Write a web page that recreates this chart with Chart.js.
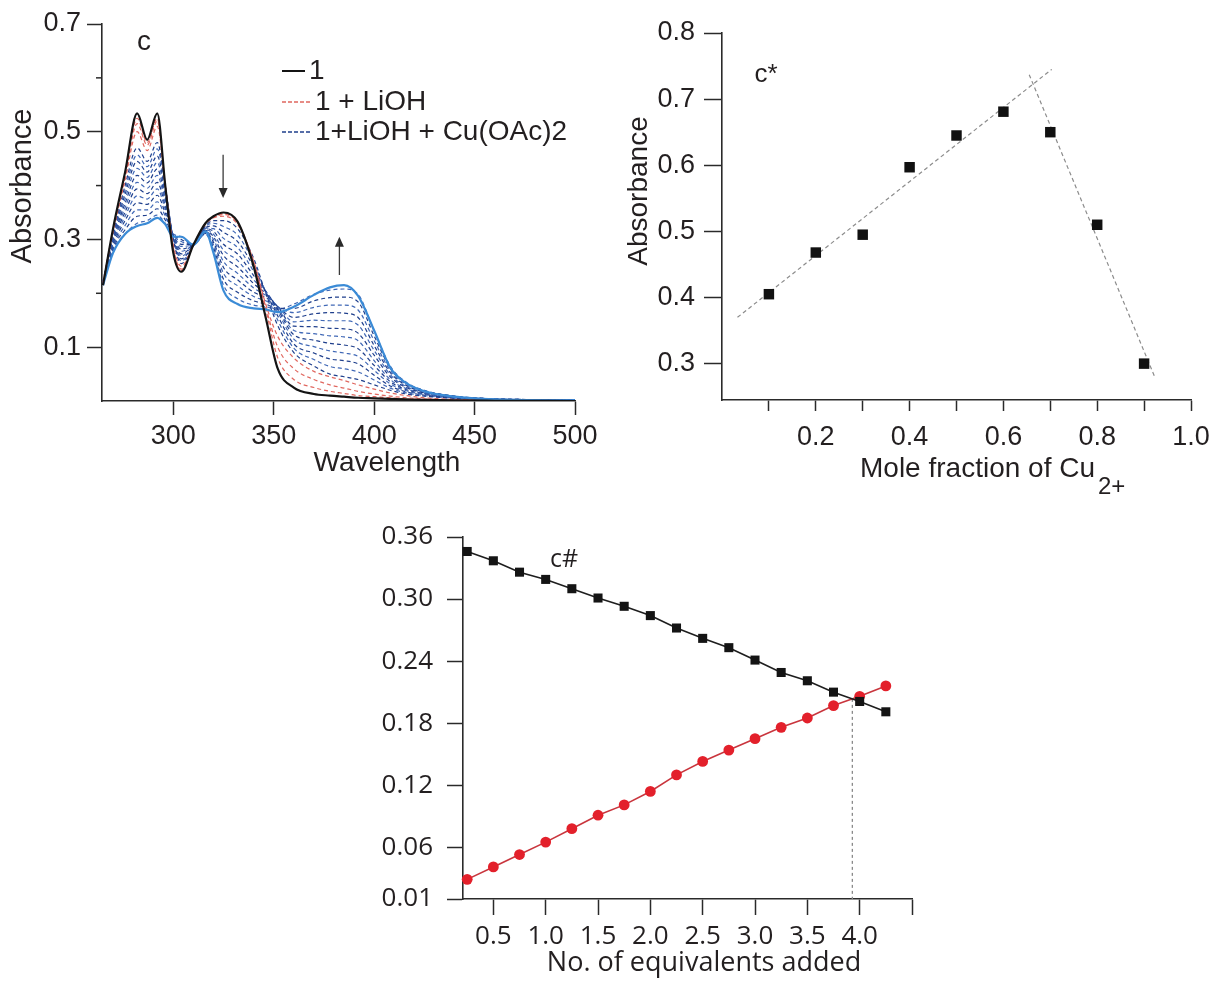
<!DOCTYPE html>
<html><head><meta charset="utf-8">
<script src="https://cdn.jsdelivr.net/npm/chart.js@4.4.1/dist/chart.umd.min.js"></script>
<style>
html,body{margin:0;padding:0;background:#fff;}
#wrap{position:relative;width:1215px;height:981px;overflow:hidden;background:#fff;}
canvas{position:absolute;}
</style></head><body>
<div id="wrap">
<canvas id="cA" width="600" height="490" style="left:0;top:0"></canvas>
<canvas id="cB" width="615" height="500" style="left:600px;top:0"></canvas>
<canvas id="cC" width="600" height="471" style="left:370px;top:510px"></canvas>
</div>
<script>
// ---------- Panel c : UV-vis titration spectra ----------
const wavelengths = [265,270,276,282,287,292,296,300,304,310,316,320,325,332,340,346,352,360,370,378,385,392,400,408,416,425,440,460,500];
const spec1      = [0.215,0.32,0.425,0.534,0.485,0.534,0.40,0.275,0.24,0.29,0.33,0.343,0.350,0.333,0.25,0.155,0.06,0.025,0.013,0.010,0.008,0.006,0.005,0.004,0.003,0.002,0.001,0.0005,0];
const specLiOH_1 = [0.218,0.318,0.42,0.525,0.48,0.525,0.40,0.28,0.242,0.29,0.33,0.342,0.348,0.332,0.255,0.17,0.08,0.04,0.025,0.018,0.014,0.010,0.008,0.006,0.004,0.003,0.002,0.001,0];
const specLiOH_2 = [0.218,0.316,0.415,0.515,0.475,0.52,0.40,0.285,0.245,0.29,0.33,0.341,0.346,0.331,0.258,0.175,0.10,0.06,0.04,0.03,0.024,0.018,0.013,0.009,0.006,0.004,0.002,0.001,0];
const specLiOH_3 = [0.22,0.314,0.41,0.50,0.465,0.51,0.40,0.29,0.25,0.29,0.328,0.34,0.343,0.328,0.26,0.18,0.12,0.08,0.055,0.045,0.038,0.03,0.022,0.015,0.01,0.006,0.003,0.001,0];
const specCu_01 = [.222,.310,.400,.470,.445,.480,.400,.300,.255,.288,.325,.335,.335,.320,.265,.200,.140,.090,.065,.050,.045,.040,.030,.020,.013,.009,.005,.002,.001];
const specCu_02 = [.221,.307,.392,.457,.435,.468,.394,.301,.260,.289,.324,.330,.324,.308,.257,.202,.150,.098,.077,.064,.060,.054,.039,.024,.015,.010,.005,.002,.001];
const specCu_03 = [.221,.305,.384,.445,.425,.455,.387,.302,.264,.290,.322,.325,.313,.296,.249,.203,.158,.106,.089,.078,.075,.069,.048,.028,.017,.011,.006,.002,.001];
const specCu_04 = [.220,.302,.375,.432,.415,.443,.381,.303,.269,.290,.321,.320,.302,.285,.241,.204,.165,.115,.101,.093,.089,.083,.057,.032,.019,.012,.006,.003,.001];
const specCu_05 = [.219,.299,.367,.419,.405,.431,.375,.304,.273,.291,.320,.315,.291,.273,.233,.204,.170,.123,.113,.107,.104,.097,.066,.036,.021,.013,.006,.003,.001];
const specCu_06 = [.219,.296,.359,.406,.395,.419,.368,.305,.278,.291,.318,.310,.280,.261,.225,.203,.173,.131,.125,.121,.119,.112,.075,.040,.023,.014,.007,.003,.002];
const specCu_07 = [.218,.294,.351,.394,.385,.406,.362,.305,.282,.292,.317,.305,.270,.249,.218,.200,.175,.139,.138,.135,.134,.126,.085,.045,.025,.015,.007,.003,.002];
const specCu_08 = [.218,.291,.343,.381,.375,.394,.356,.306,.287,.292,.315,.300,.259,.237,.210,.196,.176,.147,.150,.149,.149,.141,.094,.049,.027,.016,.007,.003,.002];
const specCu_09 = [.217,.288,.335,.368,.365,.382,.349,.307,.291,.291,.314,.295,.248,.225,.202,.192,.175,.155,.162,.164,.163,.155,.103,.053,.029,.017,.008,.004,.002];
const specCu_10 = [.216,.285,.326,.355,.355,.370,.343,.308,.296,.291,.313,.290,.237,.214,.194,.186,.174,.164,.174,.178,.178,.169,.112,.057,.031,.018,.008,.004,.002];
const specCu_11 = [.216,.283,.318,.343,.345,.357,.336,.309,.300,.290,.311,.285,.226,.202,.186,.180,.172,.172,.186,.192,.193,.184,.121,.061,.033,.019,.009,.004,.002];
const specCu_12 = [.215,.280,.310,.330,.335,.345,.330,.310,.305,.290,.310,.280,.215,.190,.178,.175,.170,.180,.198,.206,.208,.198,.130,.065,.035,.020,.009,.004,.002];
const specCuFinal = [.215,.275,.31,.325,.33,.34,.328,.305,.305,.29,.315,.275,.205,.18,.172,.17,.165,.175,.197,.211,.215,.195,.131,.062,.033,.018,.008,.003,.001];
const arrowDown = [324.8, 0.457, 0.377];   // [wavelength, from, to]
const arrowUp   = [382.7, 0.234, 0.305];
const xTicksA = [300,350,400,450,500];
const yTicksA = [0.1,0.3,0.5,0.7];
const yMinorA = [0.2,0.4,0.6];
const legendA = ['1','1 + LiOH','1+LiOH + Cu(OAc)2'];

// ---------- Panel c* : Job plot ----------
const moleFraction = [0.1,0.2,0.3,0.4,0.5,0.6,0.7,0.8,0.9];
const absorbanceJob = [0.405,0.468,0.495,0.597,0.645,0.681,0.650,0.510,0.300];
const fitRiseX = [0.033,0.703], fitRiseY = [0.370,0.745];
const fitFallX = [0.655,0.922], fitFallY = [0.737,0.281];
const xTicksB = [0.1,0.2,0.3,0.4,0.5,0.6,0.7,0.8,0.9,1.0];
const xTickLabelsB = ['','0.2','','0.4','','0.6','','0.8','','1.0'];
const yTicksB = [0.3,0.4,0.5,0.6,0.7,0.8];

// ---------- Panel c# : titration ----------
const equivalents = [0.25,0.5,0.75,1.0,1.25,1.5,1.75,2.0,2.25,2.5,2.75,3.0,3.25,3.5,3.75,4.0,4.25];
const absDecrease = [0.346,0.337,0.326,0.319,0.310,0.301,0.293,0.284,0.272,0.262,0.253,0.241,0.229,0.221,0.210,0.201,0.191];
const absIncrease = [0.029,0.041,0.053,0.065,0.078,0.091,0.101,0.114,0.130,0.143,0.154,0.165,0.176,0.185,0.197,0.206,0.216];
const equivPoint = 3.93;
const equivLineY = [0.2035, 0.01];
const xTicksC = [0.5,1.0,1.5,2.0,2.5,3.0,3.5,4.0,4.5];
const xTickLabelsC = ['0.5','1.0','1.5','2.0','2.5','3.0','3.5','4.0',''];
const yTicksC = [0.01,0.06,0.12,0.18,0.24,0.30,0.36];
const yTickLabelsC = ['0.01','0.06','0.12','0.18','0.24','0.30','0.36'];

// ---------- helpers ----------
const ARIAL = '"Liberation Sans", Arial, sans-serif';
const OPEN = '"Open Sans", "Noto Sans", sans-serif';
const INK = '#231f20';
const AX = '#2a2a2a';
const pts = (xs, ys) => xs.map((x, i) => ({x, y: ys[i]}));
const setTicks = arr => s => { s.ticks = arr.map(v => ({value: v})); };

function axis(opts) {
  return {
    type: 'linear', min: opts.min, max: opts.max,
    afterBuildTicks: setTicks(opts.ticks),
    afterFit: s => {
      opts.fit(s);
      s.paddingLeft = 0; s.paddingRight = 0; s.paddingTop = 0; s.paddingBottom = 0;
    },
    grid: {display: true, drawOnChartArea: false, drawTicks: true, tickLength: opts.tl, tickColor: AX, tickWidth: 1.5},
    border: {display: true, color: AX, width: 1.6},
    ticks: {font: {family: opts.family, size: opts.size, lineHeight: 1}, color: INK, padding: opts.pad,
            maxRotation: 0, minRotation: 0, autoSkip: false, callback: opts.cb}
  };
}
function text(ctx, s, x, y, font, align, rot) {
  ctx.save();
  ctx.font = font; ctx.fillStyle = INK; ctx.textAlign = align || 'center'; ctx.textBaseline = 'middle';
  ctx.translate(x, y); if (rot) ctx.rotate(rot);
  ctx.fillText(s, 0, 0);
  ctx.restore();
}
function arrow(ctx, px, y0, y1) {
  const dir = y1 > y0 ? 1 : -1;
  ctx.save();
  ctx.strokeStyle = '#3a3a3a'; ctx.fillStyle = '#2a2a2a'; ctx.lineWidth = 1.3; ctx.setLineDash([]);
  ctx.beginPath(); ctx.moveTo(px, y0); ctx.lineTo(px, y1 - dir * 8); ctx.stroke();
  ctx.beginPath(); ctx.moveTo(px, y1); ctx.lineTo(px - 4.5, y1 - dir * 10); ctx.lineTo(px + 4.5, y1 - dir * 10); ctx.closePath(); ctx.fill();
  ctx.restore();
}
const common = {responsive: false, animation: false, devicePixelRatio: 1,
  plugins: {legend: {display: false}, tooltip: {enabled: false}}};

// ---------- Chart A ----------
const RED = '#e0675f';
const BLUES = ['#1f3f8c', '#4068b6'];
const cuSpectra = [specCu_01,specCu_02,specCu_03,specCu_04,specCu_05,specCu_06,specCu_07,specCu_08,specCu_09,specCu_10,specCu_11,specCu_12];
const dsA = [
  {data: pts(wavelengths, spec1), borderColor: '#141414', borderWidth: 2.2},
  {data: pts(wavelengths, specCuFinal), borderColor: '#3b8bd6', borderWidth: 2.2}
];
[specLiOH_1, specLiOH_2, specLiOH_3].forEach(s => dsA.push({data: pts(wavelengths, s), borderColor: RED, borderWidth: 1.2, borderDash: [4, 3]}));
cuSpectra.forEach((s, i) => dsA.push({data: pts(wavelengths, s), borderColor: BLUES[i % 2], borderWidth: 1.2, borderDash: [4, 3]}));

const decorA = {id: 'decorA', afterDraw(chart) {
  const {ctx, scales: {x, y}, chartArea} = chart;
  ctx.save();
  ctx.strokeStyle = AX; ctx.lineWidth = 1.5;
  yMinorA.forEach(v => { const py = y.getPixelForValue(v); ctx.beginPath(); ctx.moveTo(chartArea.left - 6, py); ctx.lineTo(chartArea.left, py); ctx.stroke(); });
  arrow(ctx, x.getPixelForValue(arrowDown[0]), y.getPixelForValue(arrowDown[1]), y.getPixelForValue(arrowDown[2]));
  arrow(ctx, x.getPixelForValue(arrowUp[0]), y.getPixelForValue(arrowUp[1]), y.getPixelForValue(arrowUp[2]));
  // legend
  const rows = [71, 102, 132];
  ctx.lineWidth = 2; ctx.strokeStyle = '#141414'; ctx.setLineDash([]);
  ctx.beginPath(); ctx.moveTo(282, rows[0]); ctx.lineTo(305, rows[0]); ctx.stroke();
  ctx.lineWidth = 1.3; ctx.setLineDash([4, 2]);
  ctx.strokeStyle = RED; ctx.beginPath(); ctx.moveTo(282, rows[1]); ctx.lineTo(311, rows[1]); ctx.stroke();
  ctx.strokeStyle = BLUES[0]; ctx.beginPath(); ctx.moveTo(282, rows[2]); ctx.lineTo(311, rows[2]); ctx.stroke();
  ctx.setLineDash([]);
  text(ctx, legendA[0], 309, rows[0], '28px ' + ARIAL, 'left');
  text(ctx, legendA[1], 315, rows[1], '28px ' + ARIAL, 'left');
  text(ctx, legendA[2], 315, rows[2], '28px ' + ARIAL, 'left');
  text(ctx, 'c', 144, 42, '28px ' + ARIAL);
  text(ctx, 'Wavelength', 387, 463, '28px ' + ARIAL);
  text(ctx, 'Absorbance', 23, 186, '29px ' + ARIAL, 'center', -Math.PI / 2);
  ctx.restore();
}};

new Chart(document.getElementById('cA'), {
  type: 'line',
  data: {datasets: dsA},
  options: Object.assign({}, common, {
    layout: {padding: {left: 0, top: 24, right: 25, bottom: 0}},
    elements: {point: {radius: 0}, line: {cubicInterpolationMode: 'monotone'}},
    scales: {
      x: axis({min: 264.5, max: 500, ticks: xTicksA, fit: s => { s.height = 89; }, tl: 14, family: ARIAL, size: 27, pad: 8}),
      y: axis({min: 0, max: 0.7, ticks: yTicksA, fit: s => { s.width = 102; }, tl: 15, family: ARIAL, size: 27, pad: 6})
    }
  }),
  plugins: [decorA]
});

// ---------- Chart B ----------
const decorB = {id: 'decorB', afterDraw(chart) {
  const ctx = chart.ctx;
  text(ctx, 'c*', 166, 75, '26px ' + ARIAL);
  text(ctx, 'Absorbance', 39, 191, '28px ' + ARIAL, 'center', -Math.PI / 2);
  ctx.save(); ctx.font = '28px ' + ARIAL;
  const main = 'Mole fraction of Cu';
  const w = ctx.measureText(main).width; ctx.restore();
  text(ctx, main, 260, 469, '28px ' + ARIAL, 'left');
  text(ctx, '2+', 260 + w + 3, 487, '24px ' + ARIAL, 'left');
}};
new Chart(document.getElementById('cB'), {
  type: 'scatter',
  data: {datasets: [
    {data: pts(moleFraction, absorbanceJob), pointStyle: 'rect', pointRadius: 7.4, backgroundColor: '#111', borderColor: '#111', borderWidth: 0, clip: false},
    {data: pts(fitRiseX, fitRiseY), showLine: true, pointRadius: 0, borderColor: '#8c8c8c', borderWidth: 1.2, borderDash: [4, 3]},
    {data: pts(fitFallX, fitFallY), showLine: true, pointRadius: 0, borderColor: '#8c8c8c', borderWidth: 1.2, borderDash: [4, 3]}
  ]},
  options: Object.assign({}, common, {
    layout: {padding: {left: 0, top: 33, right: 24, bottom: 0}},
    scales: {
      x: axis({min: 0, max: 1.0, ticks: xTicksB, fit: s => { s.height = 100; }, tl: 11, family: ARIAL, size: 27, pad: 13,
               cb: (v, i) => xTickLabelsB[i]}),
      y: axis({min: 0.245, max: 0.8, ticks: yTicksB, fit: s => { s.width = 122; }, tl: 18, family: ARIAL, size: 27, pad: 9})
    }
  }),
  plugins: [decorB]
});

// ---------- Chart C ----------
const decorC = {id: 'decorC', afterDraw(chart) {
  const ctx = chart.ctx;
  text(ctx, 'c#', 194, 50, '25px ' + OPEN);
  text(ctx, 'No. of equivalents added', 334, 453, '27px ' + OPEN);
}};
new Chart(document.getElementById('cC'), {
  type: 'line',
  data: {datasets: [
    {data: pts(equivalents, absDecrease), borderColor: '#1e1e1e', borderWidth: 1.6, pointStyle: 'rect', pointRadius: 6.4,
     pointBackgroundColor: '#141414', pointBorderWidth: 0, clip: false},
    {data: pts(equivalents, absIncrease), borderColor: '#c9353d', borderWidth: 1.6, pointStyle: 'circle', pointRadius: 5.4,
     pointBackgroundColor: '#e3202b', pointBorderColor: '#e3202b', pointBorderWidth: 0, clip: false},
    {data: pts([equivPoint, equivPoint], equivLineY), borderColor: '#8a8a8a', borderWidth: 1.3, borderDash: [3, 3], pointRadius: 0}
  ]},
  options: Object.assign({}, common, {
    layout: {padding: {left: 0, top: 27, right: 58, bottom: 0}},
    scales: {
      x: axis({min: 0.21, max: 4.5, ticks: xTicksC, fit: s => { s.height = 82; }, tl: 16, family: OPEN, size: 26, pad: 9,
               cb: (v, i) => xTickLabelsC[i]}),
      y: axis({min: 0.01, max: 0.36, ticks: yTicksC, fit: s => { s.width = 93; }, tl: 16, family: OPEN, size: 26, pad: 14,
               cb: (v, i) => yTickLabelsC[i]})
    }
  }),
  plugins: [decorC]
});
</script>
</body></html>
